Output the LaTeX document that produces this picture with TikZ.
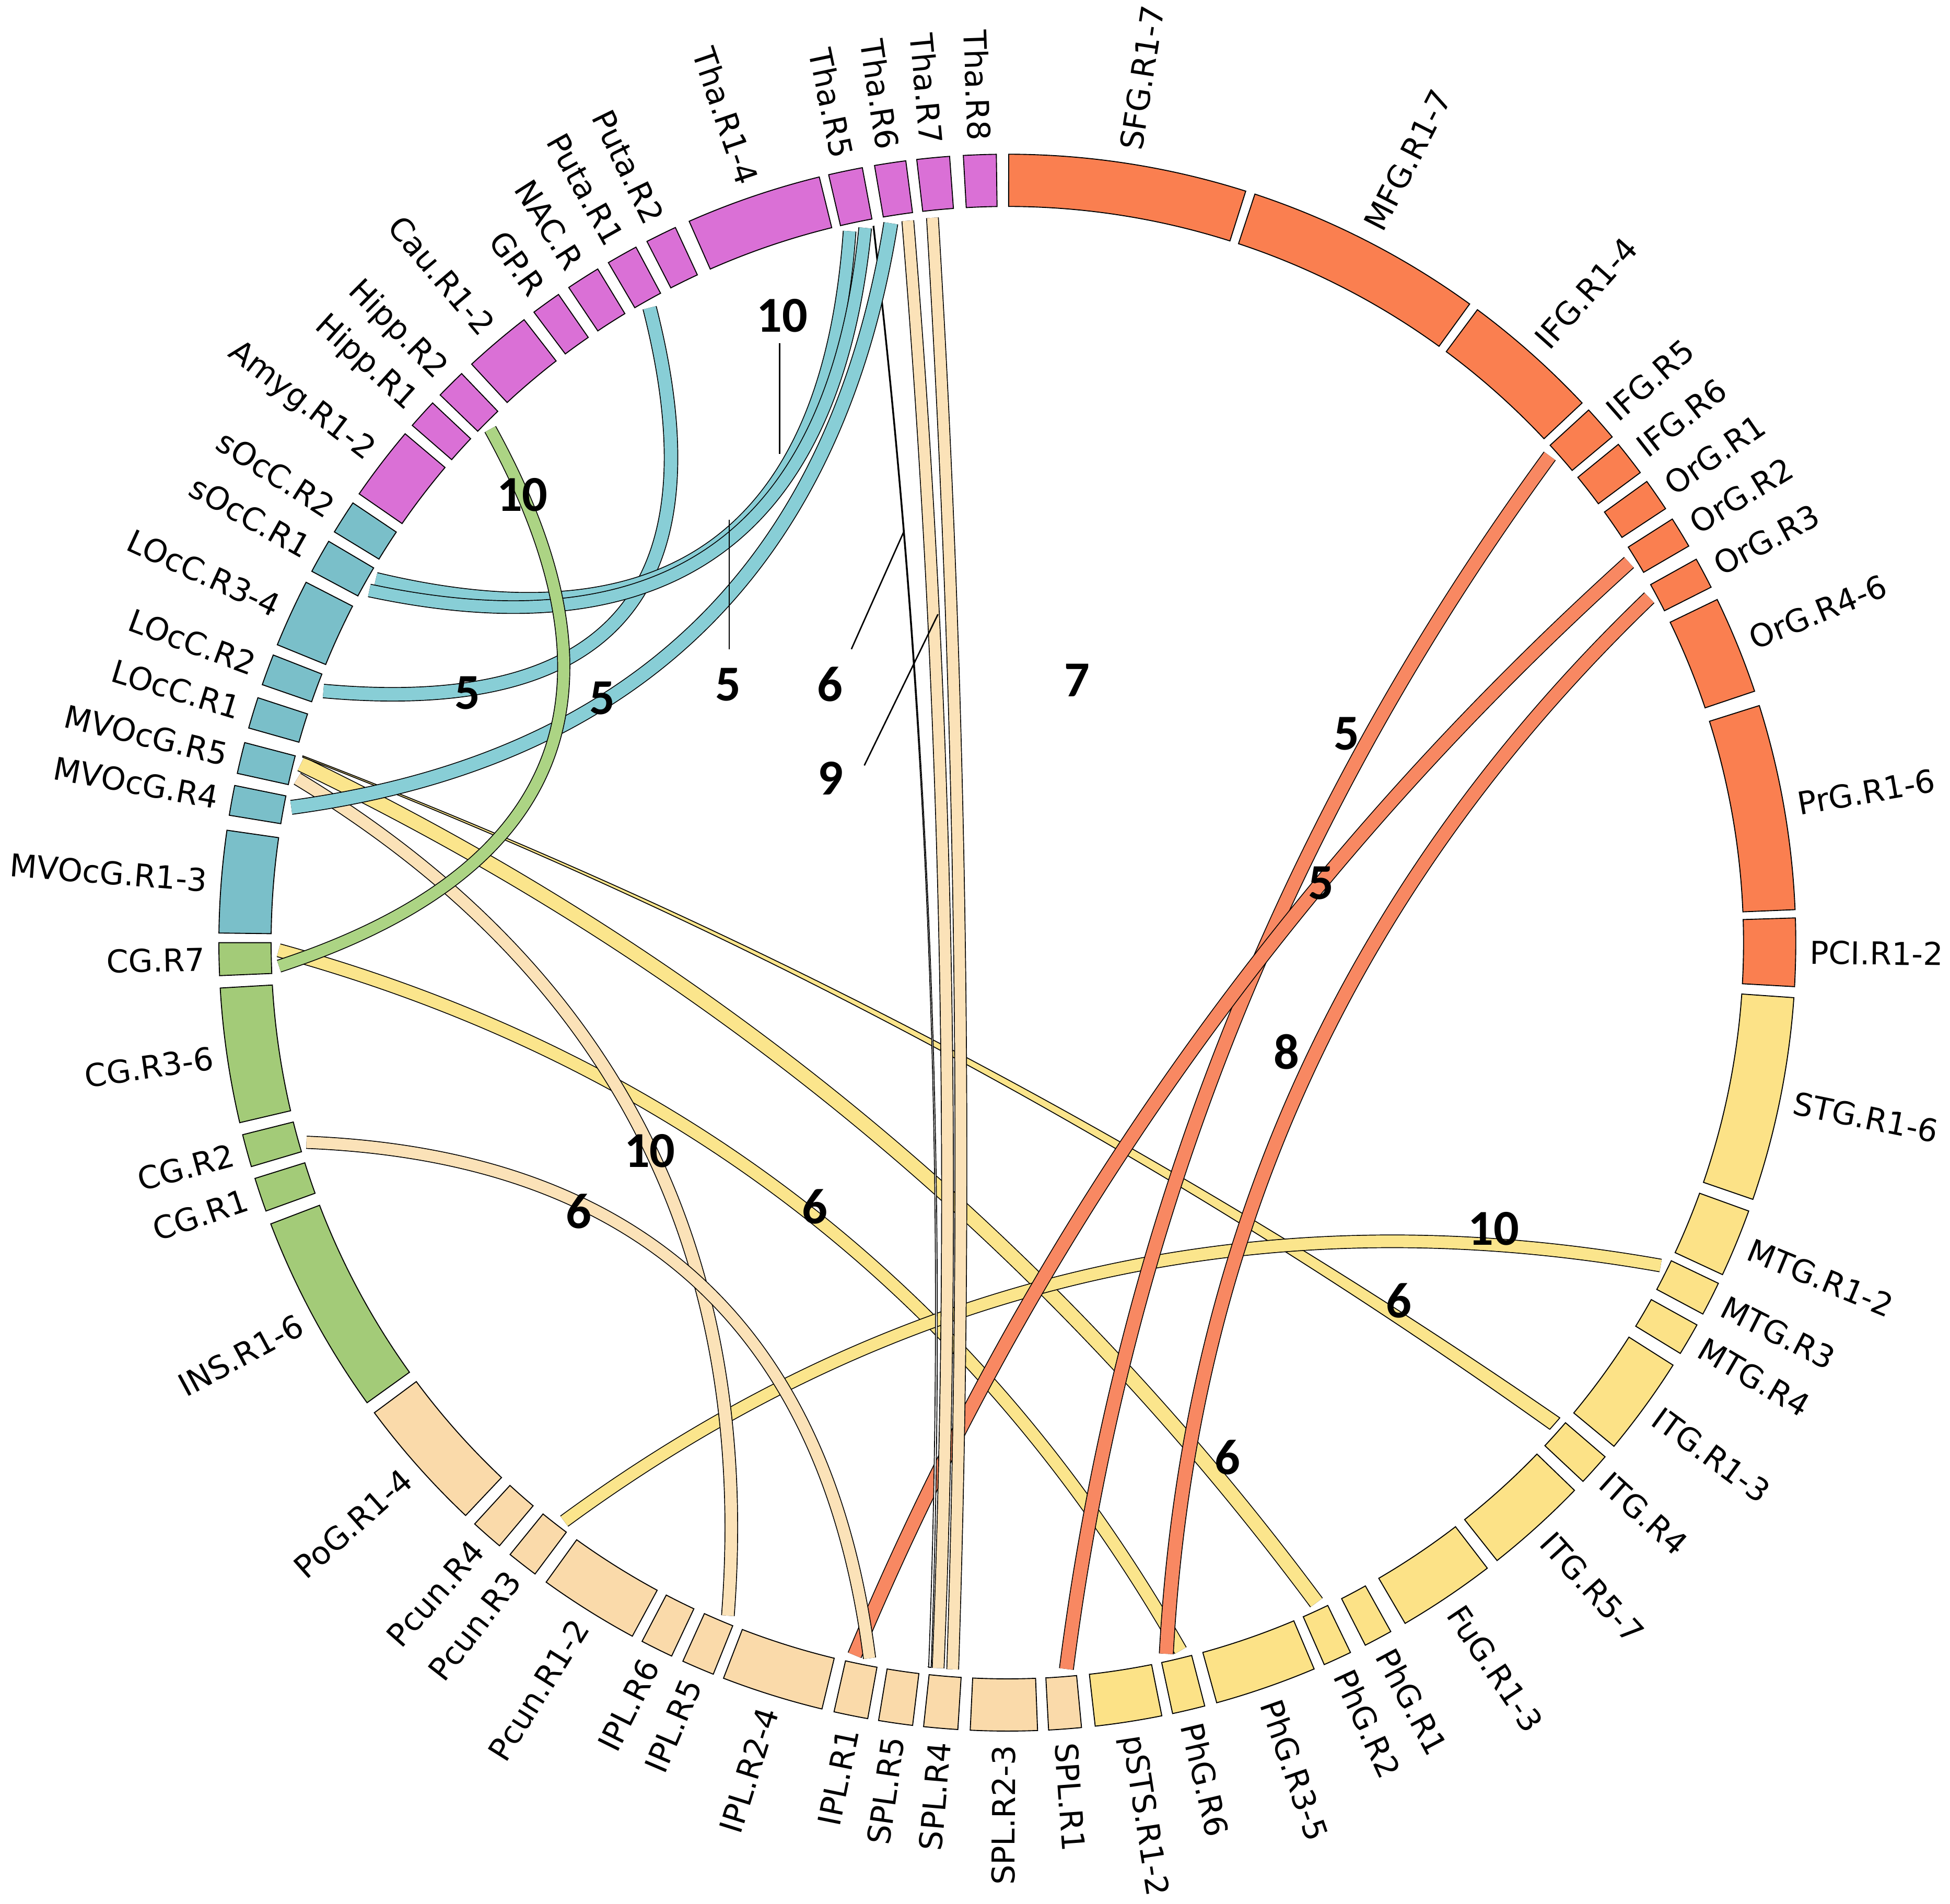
\documentclass[tikz,border=0pt]{standalone}
\usepackage{fontspec}
\setmainfont{DejaVu Sans}
\newfontfamily\numfont{Carlito}
\definecolor{cOr}{RGB}{250,127,80}
\definecolor{cYe}{RGB}{252,226,135}
\definecolor{cPe}{RGB}{250,218,170}
\definecolor{cGr}{RGB}{163,203,120}
\definecolor{cTe}{RGB}{122,191,201}
\definecolor{cMa}{RGB}{218,112,214}
\definecolor{chOr}{RGB}{248,136,98}
\definecolor{chYe}{RGB}{251,229,140}
\definecolor{chPe}{RGB}{251,226,184}
\definecolor{chGr}{RGB}{172,212,132}
\definecolor{chTe}{RGB}{136,206,214}
\newcommand{\RO}{12.68}
\newcommand{\RI}{11.84}
\newcommand{\RC}{11.72}
\newcommand{\RL}{12.9}
\newcommand{\KF}{0.24}
% segment: start angle (larger), end angle, colour, label, node name
\newcommand{\seg}[5]{%
  \pgfmathsetmacro{\segm}{(#1+#2)/2}%
  \path[segline, fill=#3] (#2:\RO) arc[start angle=#2, end angle=#1, radius=\RO] -- (#1:\RI) arc[start angle=#1, end angle=#2, radius=\RI] -- cycle;%
  \pgfmathtruncatemacro{\segflag}{cos(\segm)<0 ? 1 : 0}%
  \ifnum\segflag=1
    \pgfmathsetmacro{\segr}{\segm+180}%
    \node[seglabel, rotate=\segr, anchor=east] (#5) at (\segm:\RL) {#4};%
  \else
    \node[seglabel, rotate=\segm, anchor=west] (#5) at (\segm:\RL) {#4};%
  \fi
}
% tapered ribbon: a_lo a_hi b_lo b_hi colour  (a_lo<a_hi<b_lo<b_hi)
\newcommand{\rib}[5]{%
  \pgfmathsetmacro{\rAx}{\RC*cos(#1)}\pgfmathsetmacro{\rAy}{\RC*sin(#1)}%
  \pgfmathsetmacro{\rBx}{\RC*cos(#4)}\pgfmathsetmacro{\rBy}{\RC*sin(#4)}%
  \pgfmathsetmacro{\rCx}{\RC*cos(#3)}\pgfmathsetmacro{\rCy}{\RC*sin(#3)}%
  \pgfmathsetmacro{\rDx}{\RC*cos(#2)}\pgfmathsetmacro{\rDy}{\RC*sin(#2)}%
  \pgfmathsetmacro{\rKx}{\KF*(\rAx+\rBx)}\pgfmathsetmacro{\rKy}{\KF*(\rAy+\rBy)}%
  \pgfmathsetmacro{\rLx}{\KF*(\rCx+\rDx)}\pgfmathsetmacro{\rLy}{\KF*(\rCy+\rDy)}%
  \path[chordline, fill=#5]
    (\rAx,\rAy) .. controls ({(\rAx+2*\rKx)/3},{(\rAy+2*\rKy)/3}) and ({(\rBx+2*\rKx)/3},{(\rBy+2*\rKy)/3}) .. (\rBx,\rBy)
    arc[start angle=#4, end angle=#3, radius=\RC]
    .. controls ({(\rCx+2*\rLx)/3},{(\rCy+2*\rLy)/3}) and ({(\rDx+2*\rLx)/3},{(\rDy+2*\rLy)/3}) .. (\rDx,\rDy)
    arc[start angle=#2, end angle=#1, radius=\RC] -- cycle;%
}
% band of constant width: angle A, angle B, colour, inner width
\newcommand{\band}[4]{%
  \pgfmathsetmacro{\rAx}{\RC*cos(#1)}\pgfmathsetmacro{\rAy}{\RC*sin(#1)}%
  \pgfmathsetmacro{\rBx}{\RC*cos(#2)}\pgfmathsetmacro{\rBy}{\RC*sin(#2)}%
  \pgfmathsetmacro{\rKx}{\KF*(\rAx+\rBx)}\pgfmathsetmacro{\rKy}{\KF*(\rAy+\rBy)}%
  \draw[chordline, double=#3, double distance=#4]
    (\rAx,\rAy) .. controls ({(\rAx+2*\rKx)/3},{(\rAy+2*\rKy)/3}) and ({(\rBx+2*\rKx)/3},{(\rBy+2*\rKy)/3}) .. (\rBx,\rBy);%
}
\begin{document}
\begin{tikzpicture}[
  segline/.style={draw=black, line width=0.45pt},
  chordline/.style={draw=black, line width=0.4pt},
  seglabel/.style={font=\fontsize{14.4}{16}\selectfont, inner sep=0pt},
  numlabel/.style={font=\numfont\bfseries\fontsize{23}{26}\selectfont, inner sep=0pt},
  leader/.style={draw=black, line width=0.65pt}
]
\useasboundingbox (-16.2,-15.46) rectangle (15.16,15.16);

% ---------------- ring segments ----------------
\seg{89.9}{72.4}{cOr}{SFG.R1-7}{s1}
\seg{71.7}{54.1}{cOr}{MFG.R1-7}{s2}
\seg{53.4}{43.2}{cOr}{IFG.R1-4}{s3}
\seg{42.5}{39.9}{cOr}{IFG.R5}{s4}
\seg{39.2}{36.6}{cOr}{IFG.R6}{s5}
\seg{35.8}{33.4}{cOr}{OrG.R1}{s6}
\seg{32.5}{30.2}{cOr}{OrG.R2}{s7}
\seg{29.1}{26.8}{cOr}{OrG.R3}{s8}
\seg{25.8}{18.6}{cOr}{OrG.R4-6}{s9}
\seg{17.5}{2.4}{cOr}{PrG.R1-6}{s10}
\seg{1.8}{-3.2}{cOr}{PCI.R1-2}{s11}
\seg{-4.0}{-19.0}{cYe}{STG.R1-6}{s12}
\seg{-19.9}{-24.9}{cYe}{MTG.R1-2}{s13}
\seg{-25.6}{-28.1}{cYe}{MTG.R3}{s14}
\seg{-29.0}{-31.4}{cYe}{MTG.R4}{s15}
\seg{-32.4}{-39.7}{cYe}{ITG.R1-3}{s16}
\seg{-40.7}{-43.1}{cYe}{ITG.R4}{s17}
\seg{-44.0}{-51.6}{cYe}{ITG.R5-7}{s18}
\seg{-52.5}{-59.7}{cYe}{FuG.R1-3}{s19}
\seg{-60.9}{-63.0}{cYe}{PhG.R1}{s20}
\seg{-64.2}{-66.3}{cYe}{PhG.R2}{s21}
\seg{-67.1}{-74.6}{cYe}{PhG.R3-5}{s22}
\seg{-75.5}{-77.9}{cYe}{PhG.R6}{s23}
\seg{-78.7}{-83.6}{cYe}{pSTS.R1-2}{s24}
\seg{-84.6}{-87.0}{cPe}{SPL.R1}{s25}
\seg{-87.8}{-92.7}{cPe}{SPL.R2-3}{s26}
\seg{-93.6}{-96.1}{cPe}{SPL.R4}{s27}
\seg{-96.9}{-99.4}{cPe}{SPL.R5}{s28}
\seg{-100.2}{-102.7}{cPe}{IPL.R1}{s29}
\seg{-103.6}{-111.1}{cPe}{IPL.R2-4}{s30}
\seg{-111.9}{-114.3}{cPe}{IPL.R5}{s31}
\seg{-115.2}{-117.6}{cPe}{IPL.R6}{s32}
\seg{-118.4}{-125.8}{cPe}{Pcun.R1-2}{s33}
\seg{-126.8}{-129.1}{cPe}{Pcun.R3}{s34}
\seg{-130.1}{-132.5}{cPe}{Pcun.R4}{s35}
\seg{-133.4}{-143.4}{cPe}{PoG.R1-4}{s36}
\seg{-144.3}{-159.1}{cGr}{INS.R1-6}{s37}
\seg{-160.1}{-162.6}{cGr}{CG.R1}{s38}
\seg{-163.5}{-165.9}{cGr}{CG.R2}{s39}
\seg{-166.8}{-176.7}{cGr}{CG.R3-6}{s40}
\seg{-177.6}{-180.0}{cGr}{CG.R7}{s41}
\seg{179.3}{171.8}{cTe}{MVOcG.R1-3}{s42}
\seg{170.7}{168.5}{cTe}{MVOcG.R4}{s43}
\seg{167.6}{165.3}{cTe}{MVOcG.R5}{s44}
\seg{164.2}{161.9}{cTe}{LOcC.R1}{s45}
\seg{160.9}{158.6}{cTe}{LOcC.R2}{s46}
\seg{157.8}{152.8}{cTe}{LOcC.R3-4}{s47}
\seg{151.9}{149.4}{cTe}{sOcC.R1}{s48}
\seg{148.6}{146.1}{cTe}{sOcC.R2}{s49}
\seg{145.3}{139.8}{cMa}{Amyg.R1-2}{s50}
\seg{139.0}{136.8}{cMa}{Hipp.R1}{s51}
\seg{136.0}{133.8}{cMa}{Hipp.R2}{s52}
\seg{132.8}{127.8}{cMa}{Cau.R1-2}{s53}
\seg{126.9}{124.7}{cMa}{GP.R}{s54}
\seg{123.8}{121.3}{cMa}{NAC.R}{s55}
\seg{120.4}{118.1}{cMa}{Puta.R1}{s56}
\seg{117.2}{114.9}{cMa}{Puta.R2}{s57}
\seg{113.8}{103.8}{cMa}{Tha.R1-4}{s58}
\seg{103.1}{100.6}{cMa}{Tha.R5}{s59}
\seg{99.7}{97.4}{cMa}{Tha.R6}{s60}
\seg{96.6}{94.2}{cMa}{Tha.R7}{s61}
\seg{93.2}{90.8}{cMa}{Tha.R8}{s62}

% ---------------- links ----------------
% yellow
\band{-64.9}{165.8}{chYe}{6.4pt}
\rib{-41.9}{-40.7}{165.15}{165.25}{chYe}
\band{-76.25}{180.6}{chYe}{5.6pt}
\band{-127.45}{-26.3}{chYe}{5.4pt}
% orange
\band{-85.35}{41.9}{chOr}{6.0pt}
\band{-102.1}{31.45}{chOr}{6.0pt}
\band{-77.4}{28.25}{chOr}{6.0pt}
% peach
\band{-95.45}{97.85}{chPe}{5.0pt}
\band{-94.3}{95.9}{chPe}{5.0pt}
\band{167.0}{247.45}{chPe}{5.4pt}
\band{195.9}{259.1}{chPe}{5.2pt}
% teal
\rib{-96.2}{-96.0}{100.55}{100.62}{white}
\band{119.4}{159.8}{chTe}{5.8pt}
\band{102.5}{150.05}{chTe}{5.4pt}
\band{101.25}{151.1}{chTe}{5.4pt}
\band{99.2}{169.3}{chTe}{6.0pt}
% green
\band{135.2}{181.85}{chGr}{5.2pt}

% ---------------- leader lines ----------------
\coordinate (l1a) at (-3.66,9.64);  \coordinate (l1b) at (-3.66,7.86);
\coordinate (l2a) at (-4.472,4.72); \coordinate (l2b) at (-4.472,6.80);
\coordinate (l3a) at (-2.508,4.72); \coordinate (l3b) at (-1.66,6.62);
\coordinate (l4a) at (-2.30,2.85);  \coordinate (l4b) at (-1.116,5.28);
\draw[leader] (l1a) -- (l1b);
\draw[leader] (l2a) -- (l2b);
\draw[leader] (l3a) -- (l3b);
\draw[leader] (l4a) -- (l4b);

% ---------------- number labels ----------------
\node[numlabel] (n1)  at (-3.624,10.086) {10};
\node[numlabel] (n2)  at (-7.80,7.206) {10};
\node[numlabel] (n3)  at (-8.686,4.014) {5};
\node[numlabel] (n4)  at (-6.512,3.93) {5};
\node[numlabel] (n5)  at (-4.492,4.152) {5};
\node[numlabel] (n6)  at (-2.856,4.152) {6};
\node[numlabel] (n7)  at (-2.844,2.64) {9};
\node[numlabel] (n8)  at (1.12,4.22) {7};
\node[numlabel] (n9)  at (5.46,3.36) {5};
\node[numlabel] (n10) at (5.044,0.96) {5};
\node[numlabel] (n11) at (4.494,-1.758) {8};
\node[numlabel] (n12) at (-5.75,-3.35) {10};
\node[numlabel] (n13) at (-6.89,-4.32) {6};
\node[numlabel] (n14) at (-3.092,-4.244) {6};
\node[numlabel] (n15) at (7.82,-4.6) {10};
\node[numlabel] (n16) at (6.298,-5.758) {6};
\node[numlabel] (n17) at (3.54,-8.28) {6};
\end{tikzpicture}
\end{document}
